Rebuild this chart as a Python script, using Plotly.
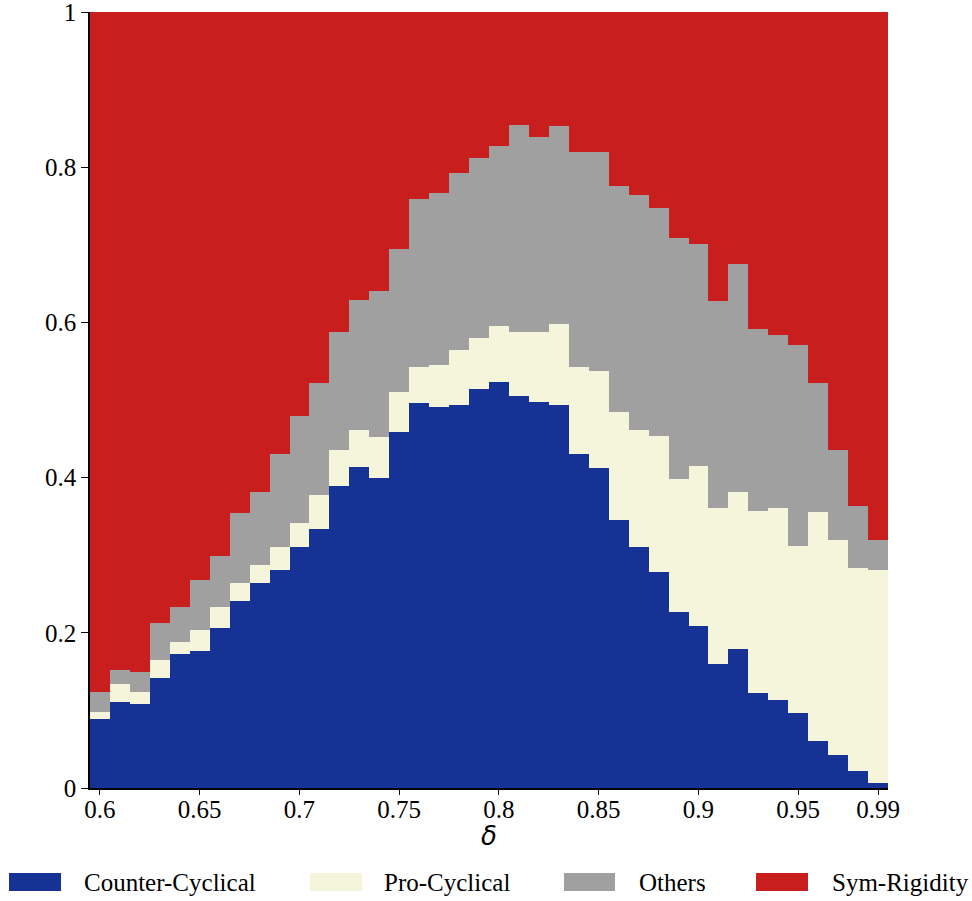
import plotly.graph_objects as go

# Discount factor grid
delta = [round(0.60 + 0.01 * i, 2) for i in range(40)]

# Share of each equilibrium type at every delta (the four shares sum to 1)
counter_cyclical = [
    0.089, 0.111, 0.108, 0.142, 0.173, 0.177, 0.206, 0.241, 0.264, 0.281,
    0.311, 0.334, 0.389, 0.414, 0.399, 0.459, 0.496, 0.491, 0.494, 0.514,
    0.523, 0.505, 0.497, 0.493, 0.431, 0.413, 0.345, 0.310, 0.279, 0.227,
    0.209, 0.160, 0.179, 0.123, 0.114, 0.097, 0.061, 0.042, 0.022, 0.007,
]
pro_cyclical = [
    0.009, 0.023, 0.016, 0.023, 0.015, 0.026, 0.027, 0.023, 0.023, 0.029,
    0.030, 0.043, 0.047, 0.047, 0.053, 0.051, 0.047, 0.054, 0.071, 0.066,
    0.073, 0.083, 0.091, 0.105, 0.111, 0.125, 0.139, 0.151, 0.175, 0.171,
    0.206, 0.201, 0.203, 0.234, 0.247, 0.215, 0.295, 0.278, 0.261, 0.274,
]
others = [
    0.026, 0.018, 0.025, 0.047, 0.045, 0.065, 0.066, 0.090, 0.095, 0.120,
    0.139, 0.145, 0.152, 0.168, 0.189, 0.184, 0.216, 0.222, 0.227, 0.232,
    0.231, 0.266, 0.251, 0.255, 0.277, 0.282, 0.292, 0.303, 0.294, 0.311,
    0.286, 0.267, 0.293, 0.235, 0.223, 0.259, 0.166, 0.115, 0.080, 0.038,
]
sym_rigidity = [
    0.876, 0.848, 0.851, 0.788, 0.767, 0.732, 0.701, 0.646, 0.618, 0.570,
    0.520, 0.478, 0.412, 0.371, 0.359, 0.306, 0.241, 0.233, 0.208, 0.188,
    0.173, 0.146, 0.161, 0.147, 0.181, 0.180, 0.224, 0.236, 0.252, 0.291,
    0.299, 0.372, 0.325, 0.408, 0.416, 0.429, 0.478, 0.565, 0.637, 0.681,
]

series_names = ["Counter-Cyclical", "Pro-Cyclical", "Others", "Sym-Rigidity"]
series_values = [counter_cyclical, pro_cyclical, others, sym_rigidity]
series_colors = ["#153294", "#F5F5DC", "#A0A0A0", "#C81E1E"]

x_tickvals = [0.6, 0.65, 0.7, 0.75, 0.8, 0.85, 0.9, 0.95, 0.99]
x_ticktext = ["0.6", "0.65", "0.7", "0.75", "0.8", "0.85", "0.9", "0.95", "0.99"]
y_tickvals = [0, 0.2, 0.4, 0.6, 0.8, 1]
y_ticktext = ["0", "0.2", "0.4", "0.6", "0.8", "1"]

W, H = 972, 901
ML, MR, MT, MB = 90, 84, 12, 113
PW, PH = W - ML - MR, H - MT - MB

SERIF = "Liberation Serif"

fig = go.Figure()
for name, vals, col in zip(series_names, series_values, series_colors):
    fig.add_trace(go.Bar(
        x=delta, y=vals, name=name, width=0.01,
        marker=dict(color=col, line=dict(width=0)),
        showlegend=False,
    ))


def px_x(p):
    return (p - ML) / PW


def px_y(p):
    return (H - MB - p) / PH


# Legend row drawn as wide swatches with labels beneath the plot
legend_items = [
    (9, 61, 82),
    (310, 362, 382),
    (564, 615, 637),
    (756, 808, 830),
]
shapes = []
annotations = []
for (sx0, sx1, tx), name, col in zip(legend_items, series_names, series_colors):
    shapes.append(dict(
        type="rect", xref="paper", yref="paper",
        x0=px_x(sx0), x1=px_x(sx1), y0=px_y(891), y1=px_y(873),
        fillcolor=col, line=dict(width=0), layer="above",
    ))
    annotations.append(dict(
        xref="paper", yref="paper", x=px_x(tx), y=px_y(882),
        text=name, showarrow=False, xanchor="left", yanchor="middle",
        font=dict(family=SERIF, size=25, color="black"),
    ))

# Axis title
annotations.append(dict(
    xref="paper", yref="paper", x=0.5, y=px_y(836),
    text="<i>δ</i>", showarrow=False, xanchor="center", yanchor="middle",
    font=dict(family="DejaVu Sans", size=26, color="black"),
))

fig.update_layout(
    width=W, height=H,
    margin=dict(l=ML, r=MR, t=MT, b=MB, pad=0, autoexpand=False),
    barmode="stack", bargap=0,
    plot_bgcolor="white", paper_bgcolor="white",
    shapes=shapes, annotations=annotations,
    font=dict(family=SERIF, size=24, color="black"),
)
fig.update_xaxes(
    range=[0.595, 0.995], tickvals=x_tickvals, ticktext=x_ticktext,
    ticks="outside", ticklen=5, tickwidth=1, tickcolor="black",
    ticklabelstandoff=-7, automargin=False,
    showline=True, linecolor="black", linewidth=1.5,
    showgrid=False, zeroline=False,
    tickfont=dict(family=SERIF, size=25, color="black"),
)
fig.update_yaxes(
    range=[0, 1], tickvals=y_tickvals, ticktext=y_ticktext,
    ticks="outside", ticklen=7, tickwidth=1, tickcolor="black",
    ticklabeloverflow="allow", automargin=False,
    showline=True, linecolor="black", linewidth=1.5,
    showgrid=False, zeroline=False,
    tickfont=dict(family=SERIF, size=25, color="black"),
)

fig.write_html("out.html")
